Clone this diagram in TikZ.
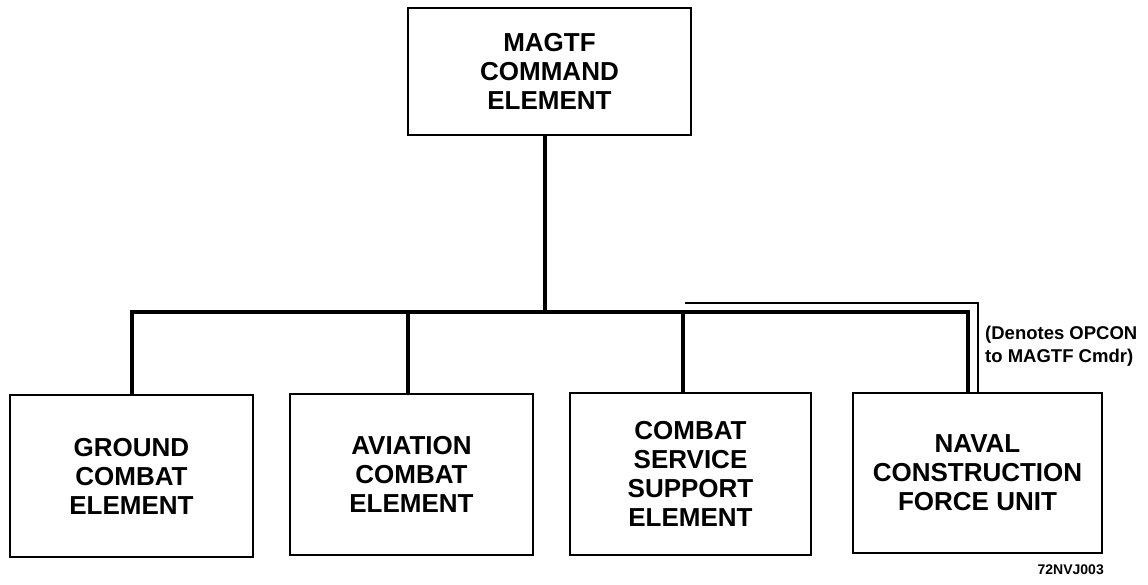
\documentclass[tikz,border=0pt]{standalone}
\usepackage{fontspec}
\setmainfont{Liberation Sans}
\begin{document}
\begin{tikzpicture}[x=1pt,y=-1pt,
  box/.style={draw, line width=2.2pt, align=center, inner sep=0pt,
    font=\bfseries\fontsize{26}{29}\selectfont},
  bus/.style={line width=4pt},
  opcon/.style={line width=2pt},
  note/.style={inner sep=0pt, align=left, font=\bfseries\fontsize{18.5}{23}\selectfont}]
\useasboundingbox (0,0) rectangle (1148,584);
\node[box, minimum width=283pt, minimum height=127pt] (cmd) at (549.5,71.5) {MAGTF\\COMMAND\\ELEMENT};
\node[box, minimum width=243pt, minimum height=162pt] (gce) at (131.5,476) {GROUND\\COMBAT\\ELEMENT};
\node[box, minimum width=243pt, minimum height=161pt] (ace) at (411.5,474.5) {AVIATION\\COMBAT\\ELEMENT};
\node[box, minimum width=241pt, minimum height=162pt] (csse) at (690.5,474) {COMBAT\\SERVICE\\SUPPORT\\ELEMENT};
\node[box, minimum width=249pt, minimum height=160pt] (ncfu) at (977.5,473) {NAVAL\\CONSTRUCTION\\FORCE UNIT};
\coordinate (top) at (545,312);
\coordinate (busL) at (132,312);
\coordinate (busR) at (968,312);
\coordinate (d2) at (408,312);
\coordinate (d3) at (683,312);
\coordinate (o1) at (685,303);
\coordinate (o2) at (978,303);
\draw[bus] (cmd.south -| top) -- (top);
\draw[bus] (busL |- gce.north) -- (busL) -- (busR) -- (busR |- ncfu.north);
\draw[bus] (d2) -- (d2 |- ace.north);
\draw[bus] (d3) -- (d3 |- csse.north);
\draw[opcon] (o1) -- (o2) -- (o2 |- ncfu.north);
\node[note, anchor=north west] (lbl) at (985,326) {(Denotes OPCON\\to MAGTF Cmdr)};
\node[inner sep=0pt, anchor=north east, font=\bfseries\fontsize{14}{16}\selectfont] (id) at (1104,565) {72NVJ003};
\end{tikzpicture}
\end{document}
